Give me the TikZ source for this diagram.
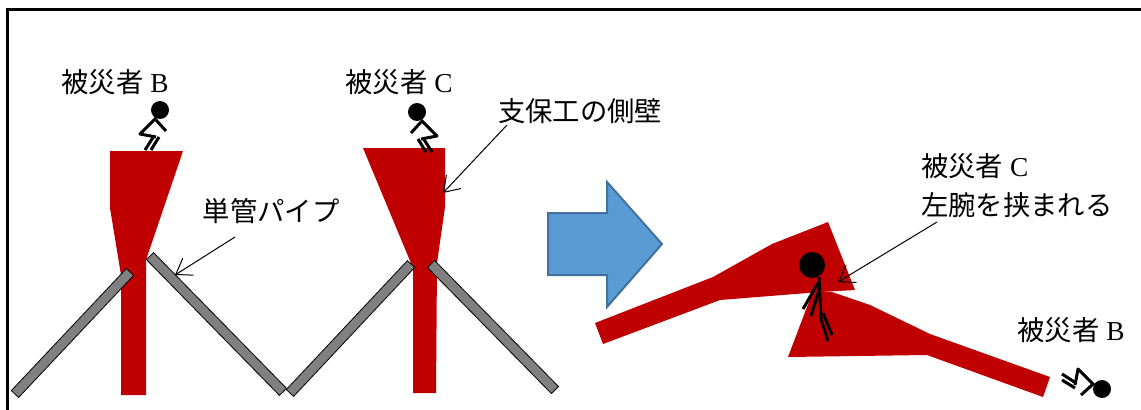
\documentclass[tikz,border=0pt]{standalone}
\usepackage{fontspec}
\setmainfont{Liberation Serif}
\newfontfamily\jp{Noto Sans CJK JP}
\usetikzlibrary{arrows.meta}
\definecolor{wallred}{HTML}{C00000}
\definecolor{pipegray}{HTML}{808080}
\definecolor{arrowblue}{HTML}{5B9BD5}
\definecolor{arrowedge}{HTML}{41719C}

\begin{document}
\begin{tikzpicture}[x=0.75pt,y=-0.75pt,
  wall/.style={fill=wallred},
  pipe/.style={rectangle,draw=black,line width=0.6pt,fill=pipegray,inner sep=0pt,minimum height=7.5pt},
  txt/.style={font=\fontsize{20.5}{29}\selectfont,inner sep=0pt},
  pointer/.style={line width=0.75pt,-{Straight Barb[length=11pt,width=15pt]}},
  limb/.style={line width=2.25pt,line join=round},
  squat/.pic={
    \fill (0,0) circle[radius=6.75pt];
    \draw[limb] (-4,8) -- (-20,24) -- (-4,27);
    \draw[limb] (-4,10) -- (6,21);
    \draw[limb] (-6,26) -- (-15,40);
    \draw[limb] (-1,27) -- (-9,40);
  }
]
\useasboundingbox (0,0) rectangle (1141,410);
\clip (0,0) rectangle (1141,410);

% frame
\draw[line width=2.25pt] (7,430) -- (7,10) -- (1160,10);

% --- before the collapse: two support walls on pipes ---
\fill[wall] (110,151) -- (183,151) -- (146,260) -- (146,395) -- (121,395)
  -- (121,275) -- (110,208) -- cycle;
\fill[wall] (363,148) -- (445,148) -- (445,207) -- (437,263) -- (436,393)
  -- (413,393) -- (413,268) -- cycle;

\node[pipe,minimum width=125.8pt,rotate=46.7]  (p1) at (72.5,333) {};
\node[pipe,minimum width=142.6pt,rotate=-45.6] (p2) at (216.5,324) {};
\node[pipe,minimum width=132.7pt,rotate=46.8]  (p3) at (350.5,328.5) {};
\node[pipe,minimum width=132.6pt,rotate=-45.5] (p4) at (493,327) {};

\pic at (160,110) {squat};
\pic[xscale=-1] at (417,112) {squat};

\node[txt] (labB1) at (115,82) {{\jp 被災者} B};
\node[txt] (labC1) at (399,82) {{\jp 被災者} C};
\node[txt] (labPipe) at (271,211) {\jp 単管パイプ};
\node[txt] (labWall) at (580,111) {\jp 支保工の側壁};

\coordinate (pipeFrom) at (235,237);
\coordinate (pipeTip) at (175,275);
\draw[pointer] (pipeFrom) -- (pipeTip);
\coordinate (wallFrom) at (507,125);
\coordinate (wallTip) at (443,193);
\draw[pointer] (wallFrom) -- (wallTip);

% --- transition arrow ---
\filldraw[fill=arrowblue,draw=arrowedge,line width=1.5pt]
  (548,213) -- (607,213) -- (607,182) -- (662,244) -- (607,307) -- (607,275)
  -- (548,275) -- cycle;

% --- after the collapse ---
\fill[wall] (595,323) -- (713,277) -- (772,244) -- (828,222) -- (855,290)
  -- (820,292) -- (720,300) -- (603,344) -- cycle;
\fill[wall] (788,357) -- (813,291) -- (832,292) -- (870,305) -- (930,334)
  -- (1050,377) -- (1043,397) -- (927,355) -- cycle;

% trapped person C
\fill (812,265) circle[radius=9.75pt];
\draw[limb] (819,277) -- (821,320);
\draw[limb] (818,283) -- (803,309);
\draw[limb] (820,287) -- (811,316);
\draw[limb] (820,316) -- (828,341);
\draw[limb] (823,313) -- (832,335);

% person B lying on the ground
\pic[rotate=-90] at (1102,389) {squat};

\node[txt,anchor=west,align=left] (labC2) at (921,186)
  {{\jp 被災者} C\\{\jp 左腕を挟まれる}};
\node[txt] (labB2) at (1071,330) {{\jp 被災者} B};

\coordinate (armFrom) at (937,222);
\coordinate (armTip) at (838,282);
\draw[pointer] (armFrom) -- (armTip);
\end{tikzpicture}
\end{document}
